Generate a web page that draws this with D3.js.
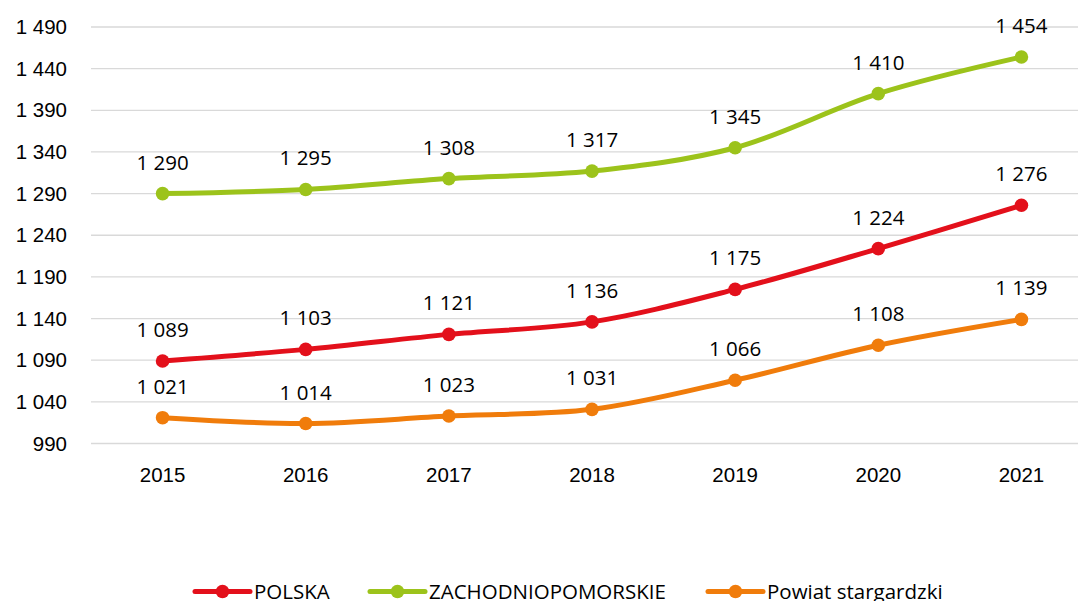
<!DOCTYPE html>
<html>
<head>
<meta charset="utf-8">
<script src="https://cdn.jsdelivr.net/npm/d3@7"></script>
<style>
  html, body { margin: 0; padding: 0; background: #fff; }
  svg { display: block; font-family: "Open Sans", "Liberation Sans", Arial, sans-serif; }
</style>
</head>
<body>
<svg id="chart" width="1078" height="601"></svg>
<script>
const years = ["2015", "2016", "2017", "2018", "2019", "2020", "2021"];
const polska = [1089, 1103, 1121, 1136, 1175, 1224, 1276];
const zachodniopomorskie = [1290, 1295, 1308, 1317, 1345, 1410, 1454];
const powiat = [1021, 1014, 1023, 1031, 1066, 1108, 1139];
const yTicks = [990, 1040, 1090, 1140, 1190, 1240, 1290, 1340, 1390, 1440, 1490];
const seriesNames = ["POLSKA", "ZACHODNIOPOMORSKIE", "Powiat stargardzki"];
const seriesColors = ["#E3101B", "#9CC31B", "#F07C0B"];

const series = [
  { name: seriesNames[0], values: polska, color: seriesColors[0] },
  { name: seriesNames[1], values: zachodniopomorskie, color: seriesColors[1] },
  { name: seriesNames[2], values: powiat, color: seriesColors[2] }
];

const FONT = 20.5;
const svg = d3.select("#chart");
const left = 91, right = 1093;

const x = d3.scaleBand().domain(years).range([left, right]);
const y = d3.scaleLinear().domain([990, 1490]).range([443.5, 27]);

const fmt = v => {
  const s = String(v);
  return s.length > 3 ? s.slice(0, s.length - 3) + " " + s.slice(-3) : s;
};

// horizontal grid lines
svg.append("g")
  .selectAll("line")
  .data(yTicks)
  .join("line")
  .attr("x1", left).attr("x2", right)
  .attr("y1", d => y(d)).attr("y2", d => y(d))
  .attr("stroke", "#d9d9d9").attr("stroke-width", 1.3);

// y axis labels
const yAxis = d3.axisLeft(y).tickValues(yTicks).tickFormat(fmt).tickSize(0).tickPadding(24);
const gy = svg.append("g").attr("transform", `translate(${left},0)`).call(yAxis);
gy.select(".domain").remove();
gy.selectAll("text").attr("font-size", FONT).attr("fill", "#000").attr("font-family", "inherit");

// x axis labels
const xAxis = d3.axisBottom(x).tickSize(0).tickPadding(0);
const gx = svg.append("g").attr("transform", `translate(0,0)`).call(xAxis);
gx.select(".domain").remove();
gx.selectAll("text").attr("font-size", FONT).attr("fill", "#000").attr("font-family", "inherit")
  .attr("dy", null).attr("y", 482);

const cx = d => x(d) + x.bandwidth() / 2;

const line = d3.line()
  .x((d, i) => cx(years[i]))
  .y(d => y(d))
  .curve(d3.curveCatmullRom.alpha(0.5));

series.forEach(s => {
  const g = svg.append("g");
  g.append("path")
    .attr("d", line(s.values))
    .attr("fill", "none")
    .attr("stroke", s.color)
    .attr("stroke-width", 5)
    .attr("stroke-linecap", "round");
  g.selectAll("circle")
    .data(s.values)
    .join("circle")
    .attr("cx", (d, i) => cx(years[i]))
    .attr("cy", d => y(d))
    .attr("r", 6.8)
    .attr("fill", s.color);
  g.selectAll("text")
    .data(s.values)
    .join("text")
    .attr("x", (d, i) => cx(years[i]))
    .attr("y", d => y(d) - 24)
    .attr("text-anchor", "middle")
    .attr("font-size", FONT)
    .attr("fill", "#000")
    .text(fmt);
});

// legend
const legendX = [195, 370, 708];
const legend = svg.append("g");
series.forEach((s, i) => {
  const g = legend.append("g").attr("transform", `translate(${legendX[i]},591.5)`);
  g.append("line").attr("x1", 0).attr("x2", 55).attr("y1", 0).attr("y2", 0)
    .attr("stroke", s.color).attr("stroke-width", 5).attr("stroke-linecap", "round");
  g.append("circle").attr("cx", 27.5).attr("cy", 0).attr("r", 6.8).attr("fill", s.color);
  g.append("text").attr("x", 59).attr("y", 7.5).attr("font-size", FONT).attr("fill", "#000").text(s.name);
});
</script>
</body>
</html>
